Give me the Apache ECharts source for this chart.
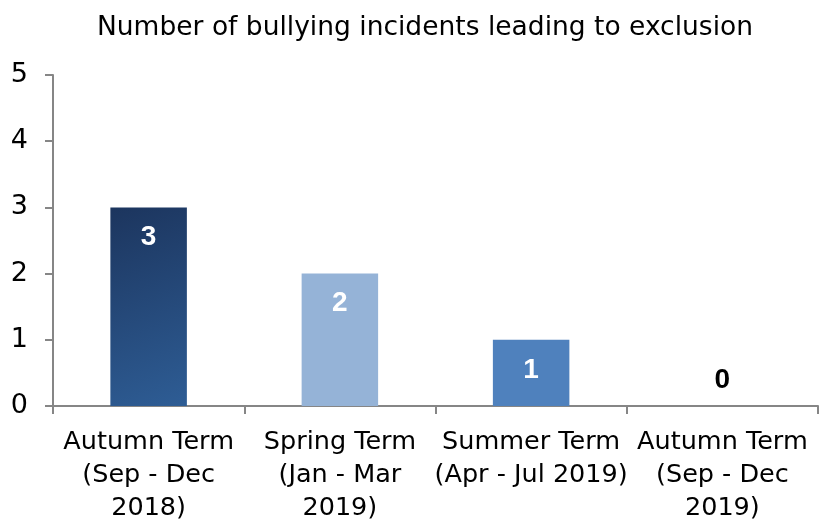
<!DOCTYPE html>
<html><head><meta charset="utf-8">
<script src="https://cdn.jsdelivr.net/npm/echarts@6/dist/echarts.min.js"></script>
<style>html,body{margin:0;padding:0;background:#fff}#c{width:819px;height:525px}</style>
</head><body><div id="c"></div>
<script>
const categories = ["Autumn Term\n(Sep - Dec\n2018)", "Spring Term\n(Jan - Mar\n2019)", "Summer Term\n(Apr - Jul 2019)", "Autumn Term\n(Sep - Dec\n2019)"];
const values = [3, 2, 1, 0];
const yTicks = [0, 1, 2, 3, 4, 5];
const titleText = "Number of bullying incidents leading to exclusion";

const barColors = [
  new echarts.graphic.LinearGradient(0, 0, 1, 1, [{offset: 0, color: '#1c355e'}, {offset: 1, color: '#2e5d95'}]),
  '#95b3d7',
  '#4f81bd',
  '#4f81bd'
];
const font = '"DejaVu Sans", sans-serif';
const labelFont = '"Liberation Sans", Arial, sans-serif';
const chart = echarts.init(document.getElementById('c'), null, {renderer: 'canvas'});
chart.setOption({
  animation: false,
  title: {text: titleText, left: 92, top: 10,
    textStyle: {fontFamily: font, fontWeight: 'normal', fontSize: 26.5, color: '#000'}},
  grid: {left: 53, right: 1, top: 75, bottom: 116},
  xAxis: {type: 'category', data: categories,
    axisLine: {lineStyle: {color: '#868686', width: 2}},
    axisTick: {show: true, length: 8, lineStyle: {color: '#868686', width: 2}},
    axisLabel: {interval: 0, margin: 20, fontFamily: font, fontSize: 25.5, color: '#000', lineHeight: 33}},
  yAxis: {type: 'value', min: 0, max: 5, interval: 1,
    splitLine: {show: false},
    axisLine: {show: true, lineStyle: {color: '#868686', width: 2}},
    axisTick: {show: true, length: 8, lineStyle: {color: '#868686', width: 2}},
    axisLabel: {margin: 25, fontFamily: font, fontSize: 27, color: '#000',
      formatter: v => yTicks.includes(v) ? String(v) : ''}},
  series: [{type: 'bar', barWidth: '40%',
    data: values.map((v, i) => ({value: v, itemStyle: {color: barColors[i]},
      label: {show: true, position: v === 0 ? 'insideBottom' : 'insideTop', distance: v === 0 ? 12 : 16,
        color: v === 0 ? '#000' : '#fff', fontWeight: 'bold', fontSize: 28, fontFamily: labelFont}}))}]
});
</script></body></html>
